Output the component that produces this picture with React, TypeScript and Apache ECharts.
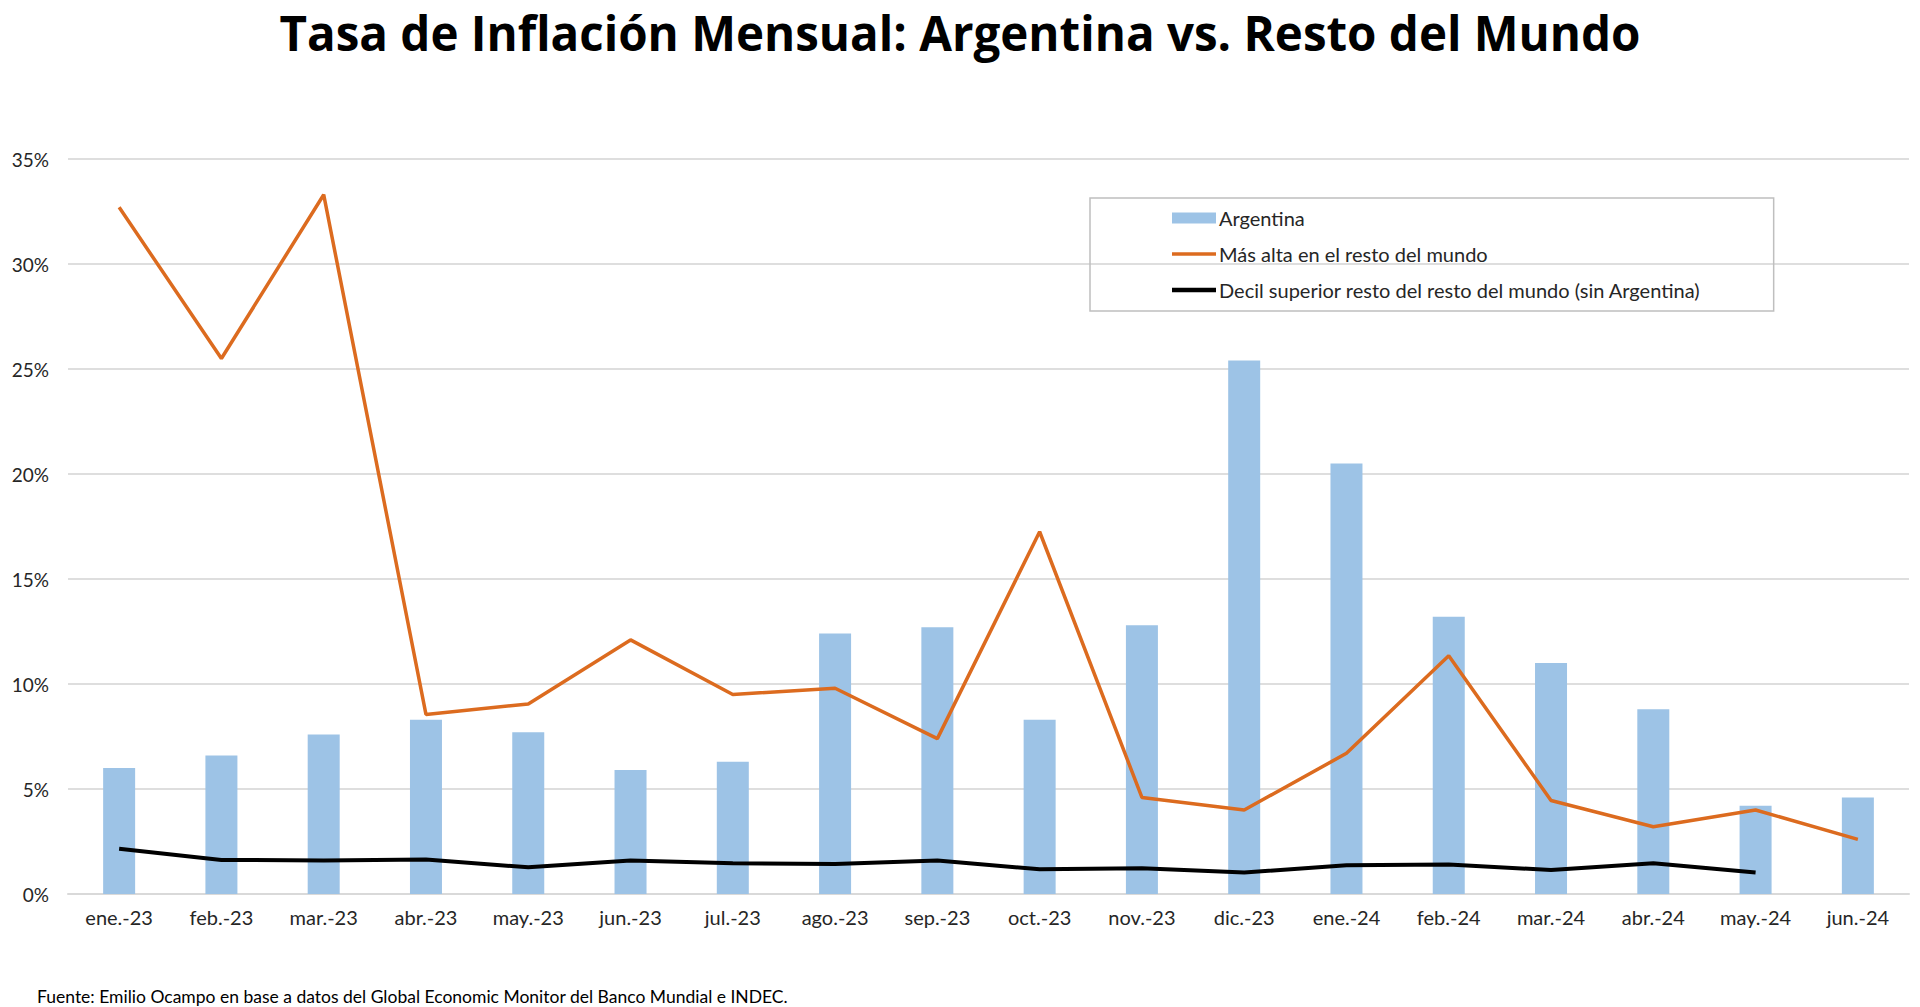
import React, { useEffect, useRef } from "react";
import * as echarts from "echarts";

const categories = [
  "ene.-23", "feb.-23", "mar.-23", "abr.-23", "may.-23", "jun.-23", "jul.-23", "ago.-23", "sep.-23",
  "oct.-23", "nov.-23", "dic.-23", "ene.-24", "feb.-24", "mar.-24", "abr.-24", "may.-24", "jun.-24",
];
const argentina = [6.0, 6.6, 7.6, 8.3, 7.7, 5.9, 6.3, 12.4, 12.7, 8.3, 12.8, 25.4, 20.5, 13.2, 11.0, 8.8, 4.2, 4.6];
const masAlta = [32.7, 25.5, 33.3, 8.55, 9.05, 12.1, 9.5, 9.8, 7.4, 17.25, 4.6, 4.0, 6.7, 11.35, 4.45, 3.2, 4.0, 2.6];
const decilSuperior = [2.15, 1.62, 1.6, 1.64, 1.27, 1.59, 1.46, 1.43, 1.59, 1.18, 1.23, 1.02, 1.37, 1.4, 1.14, 1.46, 1.02, null];
const yTicks = [0, 5, 10, 15, 20, 25, 30, 35];

const seriesNames = [
  "Argentina",
  "Más alta en el resto del mundo",
  "Decil superior resto del resto del mundo (sin Argentina)",
];
const titleText = "Tasa de Inflación Mensual: Argentina vs. Resto del Mundo";
const sourceText = "Fuente: Emilio Ocampo en base a datos del Global Economic Monitor del Banco Mundial e INDEC.";

const FONT = "Lato, 'Open Sans', sans-serif";
const TITLE_FONT = "'Open Sans', Lato, sans-serif";

export default function App() {
  const ref = useRef<HTMLDivElement>(null);
  useEffect(() => {
    if (!ref.current) return;
    const chart = echarts.init(ref.current, undefined, { renderer: "svg" });
    chart.setOption({
      animation: false,
      backgroundColor: "#ffffff",
      textStyle: { fontFamily: FONT },
      title: {
        text: titleText,
        left: "center",
        top: 8,
        padding: 0,
        textStyle: { fontFamily: TITLE_FONT, fontSize: 47.5, fontWeight: "bold", color: "#000000" },
      },
      legend: {
        orient: "vertical",
        left: 1090,
        top: 198,
        padding: [10, 73, 11, 82],
        borderColor: "#BFBFBF",
        borderWidth: 1.5,
        itemWidth: 44,
        itemHeight: 11,
        itemGap: 16,
        symbolKeepAspect: true,
        data: [
          { name: seriesNames[0], icon: "rect" },
          { name: seriesNames[1], icon: "path://M0,0H44V3.5H0Z" },
          { name: seriesNames[2], icon: "path://M0,0H44V4.5H0Z" },
        ],
        textStyle: { fontFamily: FONT, fontSize: 20, color: "#262626", lineHeight: 19, padding: [0, 0, 0, -2] },
      },
      grid: { left: 68, right: 11, top: 159, bottom: 113, containLabel: false },
      xAxis: {
        type: "category",
        data: categories,
        axisLine: { show: true, lineStyle: { color: "#D9D9D9", width: 2 } },
        axisTick: { show: false },
        axisLabel: { fontFamily: FONT, fontSize: 20, color: "#262626", margin: 13 },
      },
      yAxis: {
        type: "value",
        min: yTicks[0],
        max: yTicks[yTicks.length - 1],
        interval: 5,
        axisLine: { show: false },
        axisTick: { show: false },
        splitLine: { lineStyle: { color: "#DEDEDE", width: 2 } },
        axisLabel: {
          fontFamily: FONT,
          fontSize: 19,
          color: "#262626",
          margin: 19,
          formatter: (v: number) => `${v}%`,
        },
      },
      series: [
        {
          name: seriesNames[0],
          type: "bar",
          data: argentina,
          barWidth: 32,
          itemStyle: { color: "#9DC3E6" },
          z: 1,
        },
        {
          name: seriesNames[1],
          type: "line",
          data: masAlta,
          symbol: "none",
          lineStyle: { color: "#DC6B1F", width: 3.5 },
          itemStyle: { color: "#DC6B1F" },
          z: 3,
        },
        {
          name: seriesNames[2],
          type: "line",
          data: decilSuperior,
          symbol: "none",
          lineStyle: { color: "#000000", width: 4 },
          itemStyle: { color: "#000000" },
          z: 2,
        },
      ],
      graphic: [
        {
          type: "text",
          left: 37,
          top: 987,
          style: { text: sourceText, fontFamily: FONT, fontSize: 17.5, fill: "#000000" },
        },
      ],
    });
    return () => chart.dispose();
  }, []);
  return (
    <div
      ref={ref}
      style={{ position: "fixed", left: 0, top: 0, width: "1920px", height: "1007px" }}
    />
  );
}
